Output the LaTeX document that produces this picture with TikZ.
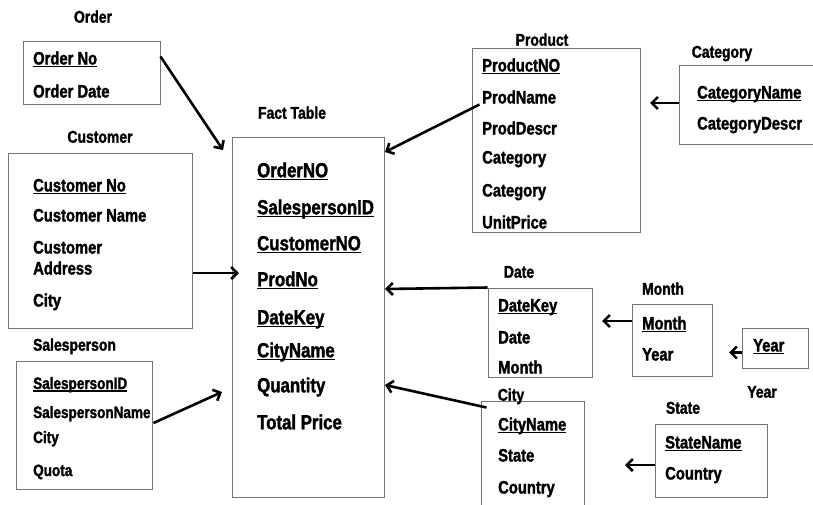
\documentclass[tikz,border=0pt]{standalone}
\usepackage{fontspec}
\setmainfont{Liberation Sans}[FakeStretch=0.82,FakeBold=1.6]
\usetikzlibrary{arrows.meta,calc}

% key attribute: text with a rule a little below the baseline
\newcommand\keyattr[1]{\setbox0\hbox{#1}\rlap{\rule[-2.6pt]{\wd0}{1.3pt}}\box0}

\begin{document}
\begin{tikzpicture}[x=1pt,y=-1pt,
  tablebox/.style={draw=black!55,line width=1pt,inner sep=0pt},
  ttl/.style={font=\fontsize{17}{17}\selectfont\bfseries,anchor=base,inner sep=0pt},
  itm/.style={font=\fontsize{18}{18}\selectfont\bfseries,anchor=base west,inner sep=0pt},
  fitm/.style={itm,font=\fontsize{20.5}{20.5}\selectfont\bfseries},
  sitm/.style={itm,font=\fontsize{16.5}{16.5}\selectfont\bfseries},
  link/.style={line width=2.6pt,-{Straight Barb[length=6pt,width=12pt]}}]
\useasboundingbox (0,0) rectangle (813,504);

% ---- table frames
\node[tablebox,minimum width=137,minimum height=63]  (order)    at (91.5,72.5) {};
\node[tablebox,minimum width=184,minimum height=175] (customer) at (100,240.5) {};
\node[tablebox,minimum width=136,minimum height=128] (sales)    at (84,425) {};
\node[tablebox,minimum width=152,minimum height=360] (fact)     at (308,317) {};
\node[tablebox,minimum width=168,minimum height=184] (product)  at (556,140) {};
\node[tablebox,minimum width=151,minimum height=79]  (category) at (754.5,104.5) {};
\node[tablebox,minimum width=104,minimum height=89]  (date)     at (540,332.5) {};
\node[tablebox,minimum width=80,minimum height=72]   (month)    at (672,340) {};
\node[tablebox,minimum width=66,minimum height=40]   (year)     at (775.5,348) {};
\node[tablebox,minimum width=103,minimum height=119] (city)     at (532.5,460.5) {};
\node[tablebox,minimum width=112,minimum height=73]  (state)    at (711,460.5) {};

% ---- table titles
\node[ttl] (tOrder)    at (93,22.7)    {Order};
\node[ttl] (tCustomer) at (100,142.7)  {Customer};
\node[ttl] (tSales)    at (74.5,350.7) {Salesperson};
\node[ttl] (tFact)     at (292,118.7)  {Fact Table};
\node[ttl] (tProduct)  at (542,45.7)   {Product};
\node[ttl] (tCategory) at (722,57.7)   {Category};
\node[ttl] (tDate)     at (519,277.7)  {Date};
\node[ttl] (tMonth)    at (663,294.7)  {Month};
\node[ttl] (tYear)     at (762,397.7)  {Year};
\node[ttl] (tCity)     at (511,400.7)  {City};
\node[ttl] (tState)    at (683,413.7)  {State};

% ---- Order
\node[itm] (oNo)   at (33,64.5) {\keyattr{Order No}};
\node[itm] (oDate) at (33,97.5) {Order Date};

% ---- Customer
\node[itm] (cNo)    at (33,191.5) {\keyattr{Customer No}};
\node[itm] (cName)  at (33,221.5) {Customer Name};
\node[itm] (cAddr)  at (33,253.5) {Customer};
\node[itm] (cAddr2) at (33,274.5) {Address};
\node[itm] (cCity)  at (33,306.5) {City};

% ---- Salesperson
\node[sitm] (sId)    at (33,389)  {\keyattr{SalespersonID}};
\node[sitm] (sName)  at (33,418)  {SalespersonName};
\node[sitm] (sCity)  at (33,443)  {City};
\node[sitm] (sQuota) at (33,476)  {Quota};

% ---- Fact table
\node[fitm] (fOrder) at (257,177.3) {\keyattr{OrderNO}};
\node[fitm] (fSales) at (257,214.3) {\keyattr{SalespersonID}};
\node[fitm] (fCust)  at (257,250.3) {\keyattr{CustomerNO}};
\node[fitm] (fProd)  at (257,286.3) {\keyattr{ProdNo}};
\node[fitm] (fDate)  at (257,324.3) {\keyattr{DateKey}};
\node[fitm] (fCity)  at (257,357.3) {\keyattr{CityName}};
\node[fitm] (fQty)   at (257,392.3) {Quantity};
\node[fitm] (fTotal) at (257,429.3) {Total Price};

% ---- Product
\node[itm] (pNo)    at (482,71.5)  {\keyattr{ProductNO}};
\node[itm] (pName)  at (482,103.5) {ProdName};
\node[itm] (pDescr) at (482,134.5) {ProdDescr};
\node[itm] (pCat)   at (482,163.5) {Category};
\node[itm] (pCat2)  at (482,196.5) {Category};
\node[itm] (pPrice) at (482,228.5) {UnitPrice};

% ---- Category
\node[itm] (kName)  at (697,98.5)  {\keyattr{CategoryName}};
\node[itm] (kDescr) at (697,129.5) {CategoryDescr};

% ---- Date
\node[itm] (dKey)   at (498,311.5) {\keyattr{DateKey}};
\node[itm] (dDate)  at (498,343.5) {Date};
\node[itm] (dMonth) at (498,373.5) {Month};

% ---- Month
\node[itm] (mMonth) at (642,329.5) {\keyattr{Month}};
\node[itm] (mYear)  at (642,360.5) {Year};

% ---- Year
\node[itm] (yYear)  at (753,351.5) {\keyattr{Year}};

% ---- City
\node[itm] (ciName)    at (498,430.5) {\keyattr{CityName}};
\node[itm] (ciState)   at (498,461.5) {State};
\node[itm] (ciCountry) at (498,493.5) {Country};

% ---- State
\node[itm] (stName)    at (665,448.5) {\keyattr{StateName}};
\node[itm] (stCountry) at (665,479.5) {Country};

% ---- arrow tips near the target tables
\coordinate (toFactOrder) at (223,150);
\coordinate (toFactCust)  at (239,273);
\coordinate (toFactSales) at (222,392);
\coordinate (toFactProd)  at (385,152);
\coordinate (toFactDate)  at (385,289);
\coordinate (toFactCity)  at (385,385);
\coordinate (toProduct)   at (650,103);
\coordinate (toDate)      at (602,321);
\coordinate (toMonth)     at (729,352.5);
\coordinate (toCity)      at (625,465);

% ---- links
\draw[link] ($(order.north east)+(0,16)$)  -- (toFactOrder);
\draw[link] ($(customer.east)+(0,32.5)$)   -- (toFactCust);
\draw[link] ($(sales.east)+(1,-2)$)        -- (toFactSales);
\draw[link] ($(product.north west)+(8,57)$) -- (toFactProd);
\draw[link] (date.north west)              -- (toFactDate);
\draw[link] ($(city.north west)+(6,7)$)    -- (toFactCity);
\draw[link] ($(category.west)+(0,-1.5)$)   -- (toProduct);
\draw[link] ($(month.west)+(0,-19)$)       -- (toDate);
\draw[link] ($(year.west)+(0,4.5)$)        -- (toMonth);
\draw[link] ($(state.west)+(0,4.5)$)       -- (toCity);
\end{tikzpicture}
\end{document}
